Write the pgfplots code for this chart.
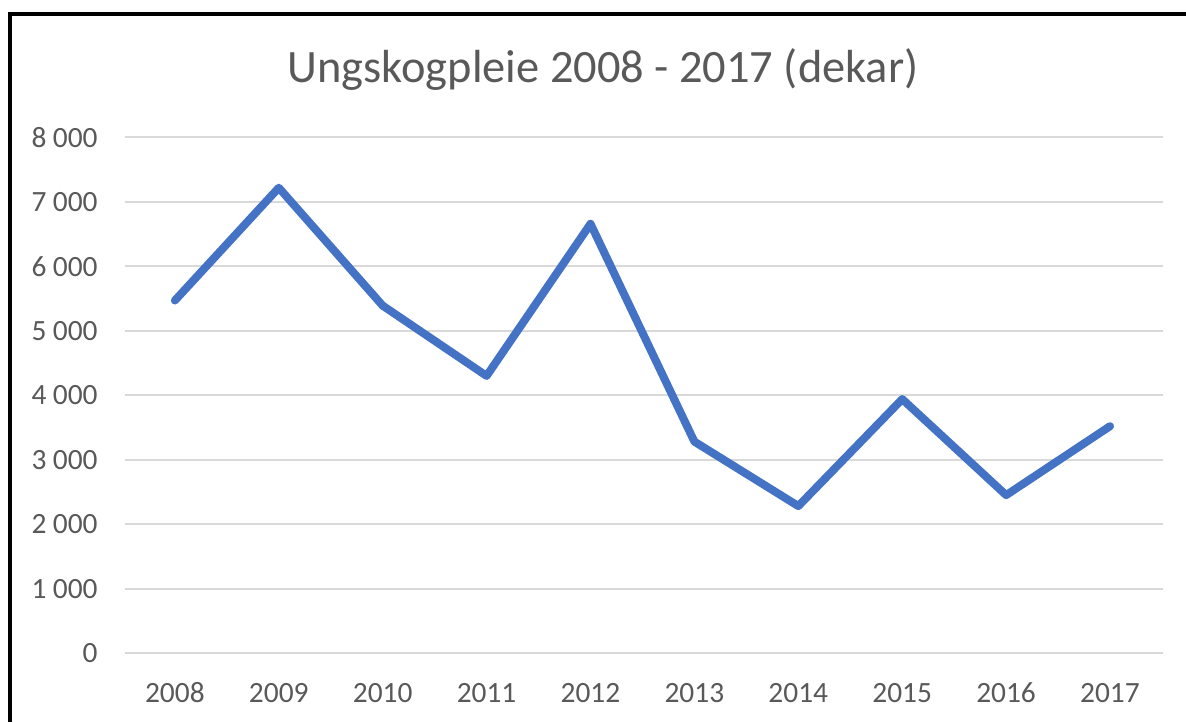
\documentclass[border=0pt]{standalone}
\usepackage{pgfplots}
\pgfplotsset{compat=1.18}
\usepackage{fontspec}
\setmainfont{Carlito}
\definecolor{linecol}{HTML}{4472C4}
\definecolor{gridcol}{HTML}{D9D9D9}
\definecolor{txtcol}{HTML}{595959}
\begin{document}
\begin{tikzpicture}[x=0.5bp,y=0.5bp]
\useasboundingbox (0,0) rectangle (1186,722);
\fill[white] (0,0) rectangle (1186,722);
\draw[black, line width=2bp] (10,0) -- (10,707.5) -- (1186,707.5);
\node[anchor=base, text=txtcol, font=\fontsize{23.2bp}{28bp}\selectfont, inner sep=0pt] at (603,639) {Ungskogpleie 2008 - 2017 (dekar)};
\begin{axis}[
  at={(62.5bp,34.5bp)}, anchor=south west,
  scale only axis, width=519bp, height=257.75bp,
  xmin=2007.52, xmax=2017.51,
  ymin=0, ymax=8000,
  xtick={2008,...,2017},
  ytick={0,1000,...,8000},
  axis line style={draw=none},
  major tick length=0pt,
  ymajorgrids, grid style={gridcol, line width=1bp},
  ticklabel style={text=txtcol, font=\fontsize{14.7bp}{17bp}\selectfont},
  xticklabel style={anchor=base, yshift=-24.5bp, /pgf/number format/1000 sep={}},
  yticklabel style={anchor=east, xshift=-13.5bp, inner sep=0pt,
    /pgf/number format/1000 sep={\hspace{0.22em}}},
  /pgf/number format/assume math mode=true,
  clip=false,
]
\addplot[linecol, line width=4bp, line join=round, line cap=round] coordinates {
(2008,5470) (2009,7220) (2010,5390) (2011,4300) (2012,6660)
(2013,3280) (2014,2280) (2015,3940) (2016,2450) (2017,3520)};
\end{axis}
\end{tikzpicture}
\end{document}
